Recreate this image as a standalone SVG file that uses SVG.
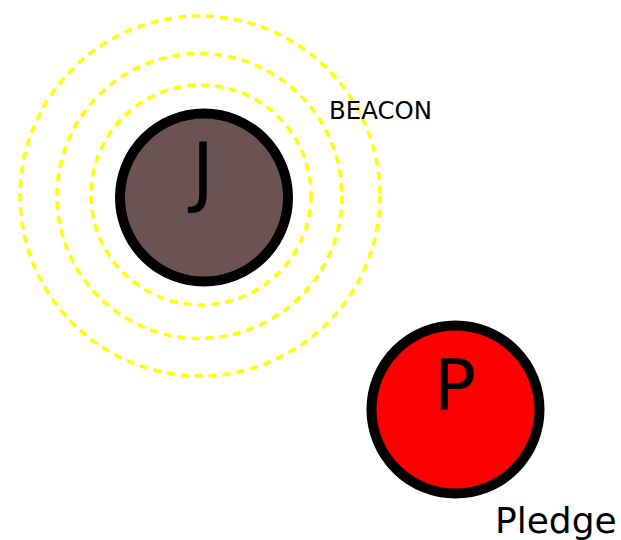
<svg xmlns="http://www.w3.org/2000/svg" width="621" height="540" viewBox="0 0 621 540">
<style>
.ring{fill:none;stroke:#ffff00;stroke-width:3.5;stroke-dasharray:8 6}
.node{stroke:#000;stroke-width:10}
.t{font-family:"DejaVu Sans",sans-serif;fill:#000}
</style>
<rect width="621" height="540" fill="#fff"/>
<g id="beacon">
<circle class="ring" cx="200" cy="196" r="180"/>
<circle class="ring" cx="199.5" cy="196" r="142.5"/>
<circle class="ring" cx="201" cy="195" r="110"/>
<text class="t" x="329" y="119" font-size="24.4">BEACON</text>
</g>
<g id="connectors"></g>
<g id="J">
<circle class="node" cx="204" cy="197.5" r="84" fill="#6b5353"/>
<text class="t" x="203" y="198" font-size="76" text-anchor="middle">J</text>
</g>
<g id="P">
<circle class="node" cx="455.5" cy="409.5" r="84" fill="#ff0000"/>
<text class="t" x="455" y="409" font-size="70" text-anchor="middle">P</text>
<text class="t" x="495" y="533" font-size="36">Pledge</text>
</g>
</svg>
